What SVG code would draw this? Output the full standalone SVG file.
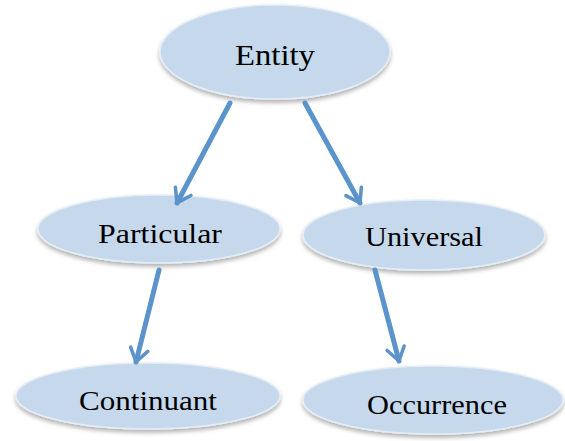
<svg xmlns="http://www.w3.org/2000/svg" width="565" height="441" viewBox="0 0 565 441">
<defs>
<filter id="sh" x="-10%" y="-20%" width="120%" height="150%">
<feDropShadow dx="0" dy="3" stdDeviation="2" flood-color="#000" flood-opacity="0.3"/>
</filter>
<marker id="ah" viewBox="0 0 20 20" refX="16" refY="10" markerWidth="4.4" markerHeight="4.4" markerUnits="strokeWidth" orient="auto">
<path d="M4,2 L16,10 L4,18" fill="none" stroke="#5b93cb" stroke-width="3.2" stroke-linecap="round" stroke-linejoin="round"/>
</marker>
</defs>
<style>
.node ellipse{fill:#c6d9ec;stroke:#e4edf6;stroke-width:1.5;filter:url(#sh)}
.node text{fill:#000;text-anchor:middle}
.conn line{stroke:#5b93cb;stroke-width:5;stroke-linecap:round;marker-end:url(#ah)}
</style>
<rect width="565" height="441" fill="#fff"/>
<g id="entity" class="node">
<ellipse cx="275" cy="52" rx="115" ry="47"/>
<text x="275" y="65" font-family="Liberation Serif, Times New Roman, Times, serif" font-size="30" textLength="80" lengthAdjust="spacingAndGlyphs">Entity</text>
</g>
<g id="particular" class="node">
<ellipse cx="159" cy="229" rx="121" ry="34"/>
<text x="160" y="243" font-family="Liberation Serif, Times New Roman, Times, serif" font-size="27" textLength="124" lengthAdjust="spacingAndGlyphs">Particular</text>
</g>
<g id="universal" class="node">
<ellipse cx="424" cy="235" rx="121" ry="35"/>
<text x="424" y="246" font-family="Liberation Serif, Times New Roman, Times, serif" font-size="27" textLength="118" lengthAdjust="spacingAndGlyphs">Universal</text>
</g>
<g id="continuant" class="node">
<ellipse cx="148" cy="396" rx="132" ry="33"/>
<text x="148" y="410" font-family="Liberation Serif, Times New Roman, Times, serif" font-size="27" textLength="138" lengthAdjust="spacingAndGlyphs">Continuant</text>
</g>
<g id="occurrence" class="node">
<ellipse cx="433" cy="400" rx="130" ry="34"/>
<text x="437" y="414" font-family="Liberation Serif, Times New Roman, Times, serif" font-size="27" textLength="140" lengthAdjust="spacingAndGlyphs">Occurrence</text>
</g>
<g id="connectors" class="conn">
<line x1="230" y1="103" x2="177" y2="203"/>
<line x1="305" y1="103" x2="360" y2="203"/>
<line x1="159" y1="270" x2="136" y2="362"/>
<line x1="375" y1="270" x2="399" y2="361"/>
</g>
</svg>
